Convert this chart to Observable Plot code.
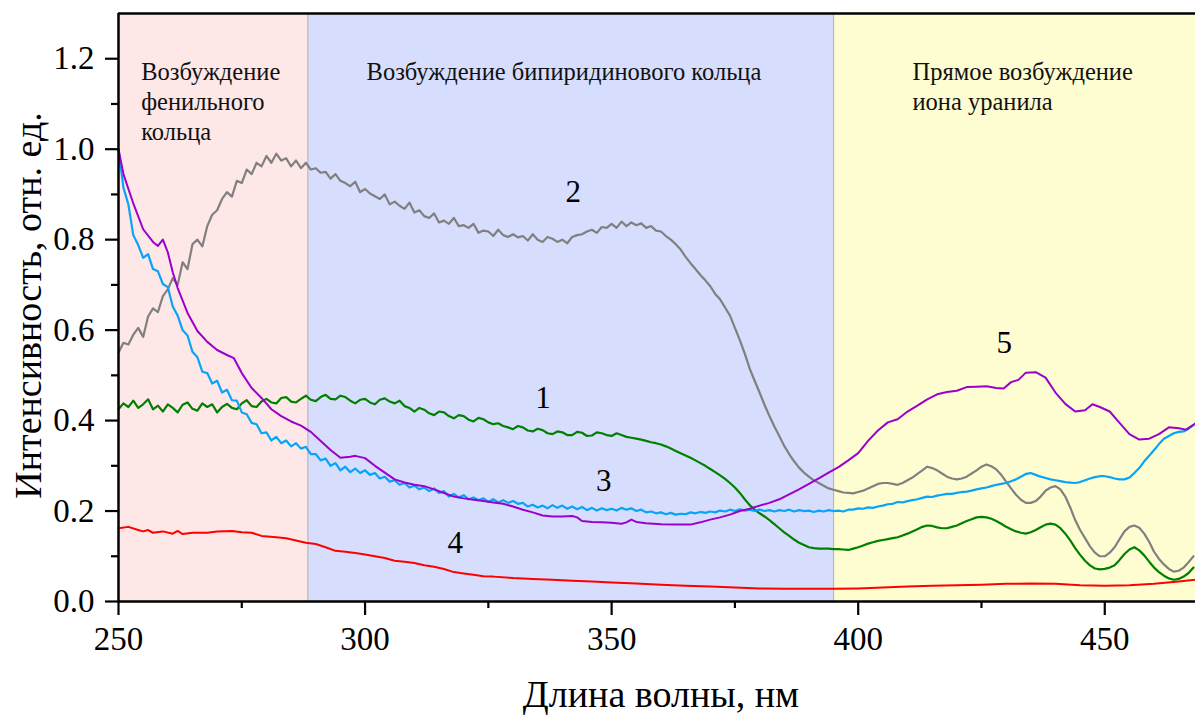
<!DOCTYPE html>
<html><head><meta charset="utf-8">
<script src="https://cdn.jsdelivr.net/npm/d3@7"></script>
<script src="https://cdn.jsdelivr.net/npm/@observablehq/plot@0.6"></script>
<style>body{margin:0;background:#fff} svg text{font-family:"Liberation Serif",serif !important;}</style>
</head><body><div id="chart"></div>
<script>
// wavelength grid (nm) for the noisy spectra, 250..468 step 1
const wlGrid = d3.range(250, 469, 1);

// curve 1 (green)
const curve1 = [
 .425,.438,.43,.444,.428,.436,.447,.425,.433,.42,
 .436,.428,.418,.435,.44,.426,.422,.438,.43,.436,
 .418,.43,.437,.428,.425,.438,.445,.432,.43,.442,
 .448,.44,.438,.45,.452,.442,.44,.448,.455,.446,
 .443,.452,.457,.448,.447,.455,.452,.444,.438,.446,
 .448,.44,.436,.446,.449,.442,.438,.444,.432,.428,
 .42,.428,.424,.416,.412,.42,.418,.41,.405,.412,
 .41,.402,.398,.406,.403,.396,.392,.394,.388,.385,
 .381,.388,.385,.378,.376,.382,.379,.372,.37,.376,
 .374,.368,.368,.375,.373,.366,.367,.374,.372,.368,
 .366,.372,.368,.364,.362,.36,.358,.355,.352,.35,
 .347,.343,.338,.333,.328,.323,.318,.312,.306,.3,
 .293,.286,.279,.271,.262,.252,.24,.226,.213,.203,
 .195,.188,.18,.171,.162,.153,.145,.137,.13,.125,
 .12,.118,.117,.117,.117,.116,.116,.115,.114,.117,
 .12,.124,.128,.131,.134,.136,.138,.14,.142,.146,
 .15,.155,.16,.165,.168,.167,.164,.162,.162,.165,
 .168,.173,.178,.182,.186,.187,.186,.183,.178,.172,
 .165,.16,.155,.152,.15,.153,.158,.164,.17,.172,
 .17,.162,.15,.135,.118,.103,.09,.08,.073,.071,
 .072,.075,.08,.092,.105,.115,.12,.113,.102,.088,
 .075,.065,.057,.051,.048,.05,.055,.063,.075
];
// curve 2 (gray)
const curve2 = [
 .55,.572,.568,.59,.605,.585,.63,.648,.64,.675,
 .69,.715,.70,.75,.735,.79,.80,.785,.83,.855,
 .865,.89,.905,.895,.93,.925,.955,.945,.97,.962,
 .985,.97,.99,.975,.98,.962,.975,.958,.97,.955,
 .958,.948,.95,.935,.945,.93,.925,.918,.928,.905,
 .912,.902,.896,.89,.9,.878,.884,.875,.868,.882,
 .86,.865,.852,.848,.858,.838,.842,.835,.848,.83,
 .832,.826,.835,.815,.82,.818,.808,.822,.81,.806,
 .812,.805,.808,.798,.812,.8,.795,.806,.802,.795,
 .8,.792,.806,.81,.812,.818,.822,.815,.828,.826,
 .835,.826,.84,.83,.838,.832,.836,.826,.83,.82,
 .818,.808,.8,.79,.778,.762,.748,.735,.722,.71,
 .697,.68,.668,.65,.632,.605,.578,.548,.515,.488,
 .462,.435,.41,.387,.366,.344,.326,.31,.296,.285,
 .276,.268,.262,.256,.25,.247,.244,.241,.24,.239,
 .242,.245,.25,.255,.26,.262,.262,.26,.258,.262,
 .268,.274,.282,.29,.298,.295,.29,.283,.276,.272,
 .27,.272,.276,.283,.29,.298,.303,.299,.292,.28,
 .265,.25,.236,.225,.218,.218,.222,.232,.245,.252,
 .255,.248,.232,.208,.18,.158,.14,.122,.108,.10,
 .10,.108,.12,.138,.155,.165,.168,.163,.15,.132,
 .11,.094,.082,.072,.066,.068,.075,.087,.10
];
// curve 3 (light blue)
const curve3 = [
 1.0,.915,.878,.81,.788,.76,.768,.735,.73,.702,
 .695,.652,.632,.6,.588,.552,.54,.508,.505,.482,
 .488,.462,.468,.445,.444,.418,.414,.395,.392,.372,
 .374,.356,.364,.35,.356,.343,.35,.338,.342,.326,
 .326,.312,.316,.3,.306,.29,.298,.286,.294,.284,
 .29,.28,.284,.272,.276,.265,.268,.258,.262,.252,
 .256,.248,.252,.244,.25,.24,.244,.232,.238,.23,
 .235,.226,.23,.224,.228,.22,.226,.219,.224,.218,
 .222,.216,.218,.21,.214,.208,.212,.206,.213,.207,
 .212,.205,.21,.204,.209,.202,.207,.201,.206,.202,
 .205,.201,.207,.203,.206,.2,.203,.197,.199,.195,
 .197,.193,.196,.192,.194,.193,.197,.195,.198,.196,
 .199,.197,.201,.199,.203,.2,.204,.201,.203,.2,
 .203,.2,.202,.199,.202,.2,.203,.199,.202,.2,
 .201,.198,.201,.199,.202,.2,.201,.199,.203,.203,
 .206,.205,.208,.207,.21,.212,.215,.216,.22,.219,
 .222,.224,.226,.229,.232,.231,.234,.236,.238,.238,
 .24,.242,.243,.245,.248,.25,.252,.255,.258,.26,
 .262,.266,.27,.276,.282,.284,.28,.276,.273,.27,
 .268,.266,.264,.263,.262,.264,.268,.272,.275,.277,
 .277,.275,.272,.27,.27,.274,.284,.295,.31,.322,
 .335,.348,.36,.366,.372,.375,.376,.382,.39
];
// curve 4 (red): [wavelength, intensity]
const curve4 = [
 [250,.162],[252,.165],[254,.158],[255,.155],[256,.158],[257,.152],[259,.155],[261,.15],[262,.156],[263,.149],
 [265,.152],[268,.152],[270,.155],[273,.156],[275,.153],[277,.152],[279,.145],[282,.142],[284,.14],[286,.135],
 [288,.13],[290,.127],[292,.12],[294,.112],[296,.11],[298,.107],[300,.104],[302,.1],[304,.096],[306,.09],
 [308,.088],[310,.085],[312,.08],[314,.077],[316,.072],[318,.065],[320,.062],[322,.059],[324,.056],[326,.055],
 [330,.052],[334,.05],[338,.048],[342,.046],[346,.044],[350,.042],[355,.04],[360,.037],[365,.035],[370,.033],
 [375,.031],[380,.029],[385,.028],[390,.028],[395,.028],[400,.029],[405,.031],[410,.033],[415,.035],[420,.036],
 [425,.037],[430,.039],[435,.04],[440,.039],[445,.036],[450,.035],[455,.036],[460,.039],[465,.044],[468.4,.048]
];
// curve 5 (purple): [wavelength, intensity]
const curve5 = [
 [250,1.0],[251,.945],[253,.88],[255,.823],[257,.795],[258,.786],[259,.8],[260,.772],[261,.728],[262,.693],
 [264,.638],[266,.598],[268,.574],[270,.556],[272,.545],[273.4,.538],[275,.505],[277,.472],[279,.45],[281,.425],
 [283,.41],[285,.398],[287,.389],[289,.375],[291,.355],[293,.335],[295,.318],[297,.32],[298,.322],[300,.317],
 [302,.3],[304,.285],[306,.27],[308,.263],[310,.258],[312,.255],[314,.248],[316,.24],[318,.232],[320,.228],
 [322,.225],[324,.222],[326,.219],[328,.216],[330,.21],[332,.203],[334,.197],[336,.19],[338,.188],[340,.188],
 [342,.189],[343,.186],[344,.178],[346,.176],[348,.175],[350,.174],[352,.172],[353,.175],[354,.181],[355,.176],
 [357,.173],[360,.171],[363,.17],[366,.17],[368,.175],[370,.181],[372,.186],[374,.192],[376,.2],[378,.205],
 [380,.212],[382,.218],[384,.226],[386,.237],[388,.248],[390,.26],[392,.272],[394,.285],[396,.297],[398,.312],
 [400,.328],[402,.355],[404,.378],[406,.396],[408,.403],[410,.42],[412,.433],[414,.447],[416,.458],[418,.463],
 [420,.466],[422,.474],[424,.475],[426,.476],[428,.472],[429.5,.471],[431,.485],[432.5,.49],[434,.506],[436,.507],
 [438,.495],[440,.462],[442,.437],[444,.42],[446,.423],[447.5,.436],[449,.43],[451,.42],[453,.395],[455,.37],
 [457,.358],[459,.36],[461,.37],[463,.385],[465,.383],[466.5,.38],[468.4,.394]
];

// excitation regions
const regionStart = [250, 288.4, 395];
const regionEnd = [288.4, 395, 468.4];
const regionFill = ["#fde7e7", "#d7ddfc", "#fefdd2"];
const regionText = ["Возбуждение\nфенильного\nкольца", "Возбуждение бипиридинового кольца", "Прямое возбуждение\nиона уранила"];
const regionTextX = [254.6, 300.3, 411];

// curve number labels
const labelText = ["1", "2", "3", "4", "5"];
const labelX = [336.1, 342.2, 348.4, 318.3, 429.6];
const labelY = [0.45, 0.905, 0.267, 0.13, 0.572];

const xTicks = [250, 300, 350, 400, 450];
const xMinor = [275, 325, 375, 425];
const yTicks = [0, 0.2, 0.4, 0.6, 0.8, 1.0, 1.2];
const yMinor = [0.1, 0.3, 0.5, 0.7, 0.9, 1.1];

const noisy = (vals) => wlGrid.map((w, i) => ({x: w, y: vals[i]}));
const pairs = (arr) => arr.map(([x, y]) => ({x, y}));
const regions = regionStart.map((s, i) => ({x1: s, x2: regionEnd[i], fill: regionFill[i], text: regionText[i], tx: regionTextX[i]}));
const labels = labelText.map((t, i) => ({t, x: labelX[i], y: labelY[i]}));

const font = "Liberation Serif";

const chart = Plot.plot({
  width: 1195, height: 715,
  marginLeft: 118, marginRight: 0, marginTop: 13, marginBottom: 114,
  x: {domain: [250, 468.4], label: null},
  y: {domain: [0, 1.3], label: null},
  color: {type: "identity"},
  style: {fontFamily: font, background: "#fff", color: "#000"},
  marks: [
    Plot.rect(regions, {x1: "x1", x2: "x2", fill: "fill"}),
    Plot.ruleX([288.4, 395], {stroke: "#b9b9c2", strokeWidth: 1.2}),
    Plot.text(regions, {x: "tx", y: 1.2, text: "text", textAnchor: "start", lineAnchor: "top", fontSize: 24.5, lineHeight: 1.22, fill: "#111", fontFamily: font}),
    Plot.line(pairs(curve4), {x: "x", y: "y", stroke: "#ff0000", strokeWidth: 2}),
    Plot.line(noisy(curve2), {x: "x", y: "y", stroke: "#808080", strokeWidth: 2.2}),
    Plot.line(noisy(curve1), {x: "x", y: "y", stroke: "#008000", strokeWidth: 2.2}),
    Plot.line(noisy(curve3), {x: "x", y: "y", stroke: "#08a4f7", strokeWidth: 2.2}),
    Plot.line(pairs(curve5), {x: "x", y: "y", stroke: "#9b00cc", strokeWidth: 2}),
    Plot.text(labels, {x: "x", y: "y", text: "t", fontSize: 31, fill: "#000", fontFamily: font}),
    Plot.axisX(xTicks, {tickSize: 14, tickPadding: 11, fontSize: 33, fontFamily: font, tickFormat: d => String(d), strokeWidth: 2.2, label: null}),
    Plot.axisX(xMinor, {tickSize: 7, tickFormat: () => "", strokeWidth: 2.2, label: null}),
    Plot.axisY(yTicks, {tickSize: 13, tickPadding: 11, fontSize: 33, fontFamily: font, tickFormat: d => d.toFixed(1), strokeWidth: 2.2, label: null}),
    Plot.axisY(yMinor, {tickSize: 7, tickFormat: () => "", strokeWidth: 2.2, label: null}),
    Plot.ruleY([0], {strokeWidth: 2.5, stroke: "#000"}),
    Plot.ruleY([1.3], {strokeWidth: 2.5, stroke: "#000"}),
    Plot.ruleX([250], {strokeWidth: 2.5, stroke: "#000"}),
    Plot.text(["Длина волны, нм"], {frameAnchor: "bottom", lineAnchor: "middle", textAnchor: "middle", dy: 93, dx: 4, fontSize: 38, fill: "#000", fontFamily: font}),
    Plot.text(["Интенсивность, отн. ед."], {frameAnchor: "left", textAnchor: "middle", lineAnchor: "middle", rotate: -90, dx: -90, dy: -2, fontSize: 38, fill: "#000", fontFamily: font})
  ]
});
document.getElementById("chart").appendChild(chart);
</script>
</body></html>
